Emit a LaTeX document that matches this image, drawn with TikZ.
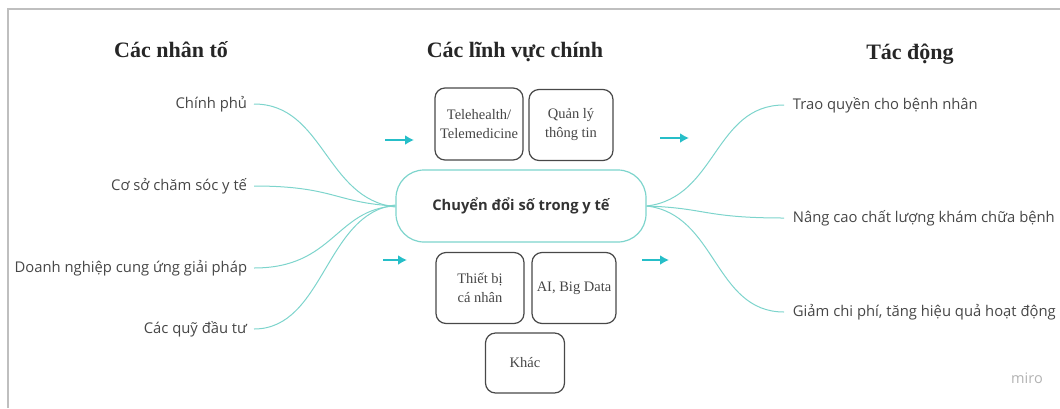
\documentclass[tikz,border=0pt]{standalone}
\usepackage{fontspec}
\setmainfont{Liberation Serif}
\newfontfamily\osans{Open Sans}
\usepackage{tikz}
\usetikzlibrary{arrows.meta, positioning}

\definecolor{linkteal}{RGB}{125,212,204}
\definecolor{arrowteal}{RGB}{38,190,200}
\definecolor{boxgray}{RGB}{72,72,72}
\definecolor{labelgray}{RGB}{70,70,70}

\tikzset{
  header/.style={font=\fontsize{22}{26}\selectfont\bfseries, text=black!85},
  factor/.style={font=\osans\fontsize{14.8}{18}\selectfont, text=labelgray, inner sep=0.75pt},
  field/.style={draw=boxgray, line width=1.2pt, rounded corners=10pt, align=center,
    font=\fontsize{14.5}{19}\selectfont, text=labelgray, inner sep=0pt},
  link/.style={draw=linkteal, line width=1pt},
  flow/.style={draw=arrowteal, line width=2.8pt, -{Latex[length=9pt,width=10pt]}},
}

\begin{document}
\begin{tikzpicture}[x=1pt,y=1pt,yscale=-1]
\useasboundingbox (0,0) rectangle (1060,408);

% frame
\draw [black!25, line width=2pt] (8,408) -- (8,9) -- (1060,9);

% Text Node
\node [header] (hfactors) at (171,50) {Các nhân tố};
\node [header] (hfields) at (515,52) {Các lĩnh vực chính};
\node [header] (himpact) at (910,54) {Tác động};

% hub
\node [draw=linkteal, line width=1.2pt, rounded corners=28pt, minimum width=250pt,
  minimum height=72pt, font=\osans\bfseries\fontsize{14.7}{18}\selectfont, text=black!80]
  (hub) at (521,206) {Chuyển đổi số trong y tế};

% factors
\node [factor, anchor=east] (gov) at (248,104) {Chính phủ};
\node [factor, anchor=east] (care) at (248,186) {Cơ sở chăm sóc y tế};
\node [factor, anchor=east] (biz) at (248,268) {Doanh nghiệp cung ứng giải pháp};
\node [factor, anchor=east] (fund) at (248,329) {Các quỹ đầu tư};

% impacts
\node [factor, anchor=west] (patient) at (792,105) {Trao quyền cho bệnh nhân};
\node [factor, anchor=west] (quality) at (792,218) {Nâng cao chất lượng khám chữa bệnh};
\node [factor, anchor=west] (cost) at (792,312) {Giảm chi phí, tăng hiệu quả hoạt động};

% links
\draw [link] ([xshift=6pt]gov.east) .. controls +(70,0) and +(-70,-8) .. ([yshift=1pt]hub.west);
\draw [link] ([xshift=6pt]care.east) .. controls +(80,0) and +(-60,-3) .. (hub.west);
\draw [link] ([xshift=6pt]biz.east) .. controls +(80,0) and +(-60,3) .. (hub.west);
\draw [link] ([xshift=6pt]fund.east) .. controls +(70,0) and +(-70,8) .. ([yshift=-1pt]hub.west);
\draw [link] (hub.east) .. controls +(70,-8) and +(-70,0) .. ([xshift=-8pt]patient.west);
\draw [link] (hub.east) .. controls +(60,2) and +(-80,0) .. ([xshift=-8pt]quality.west);
\draw [link] (hub.east) .. controls +(70,8) and +(-70,0) .. ([xshift=-8pt]cost.west);

% fields
\node [field, minimum width=88pt, minimum height=72pt] (tele) at (479,124) {Telehealth/\\Telemedicine};
\node [field, minimum width=84pt, minimum height=71pt] (info) at (571,125) {Quản lý\\thông tin};
\node [field, minimum width=88pt, minimum height=71pt] (device) at (480,288) {Thiết bị\\cá nhân};
\node [field, minimum width=84pt, minimum height=71pt] (aibig) at (574,288) {AI, Big Data};
\node [field, minimum width=79pt, minimum height=60pt] (other) at (525,363) {Khác};

% arrows
\coordinate (a1s) at (385,140); \coordinate (a1e) at (414,140);
\coordinate (a2s) at (383,260); \coordinate (a2e) at (407,260);
\coordinate (a3s) at (660,138); \coordinate (a3e) at (689,138);
\coordinate (a4s) at (642,260); \coordinate (a4e) at (669,260);
\draw [flow] (a1s) -- (a1e);
\draw [flow] (a2s) -- (a2e);
\draw [flow] (a3s) -- (a3e);
\draw [flow] (a4s) -- (a4e);

% Text Node
\node [font=\osans\fontsize{14.5}{16}\selectfont, text=black!30] (miro) at (1027,378) {miro};

\end{tikzpicture}
\end{document}
